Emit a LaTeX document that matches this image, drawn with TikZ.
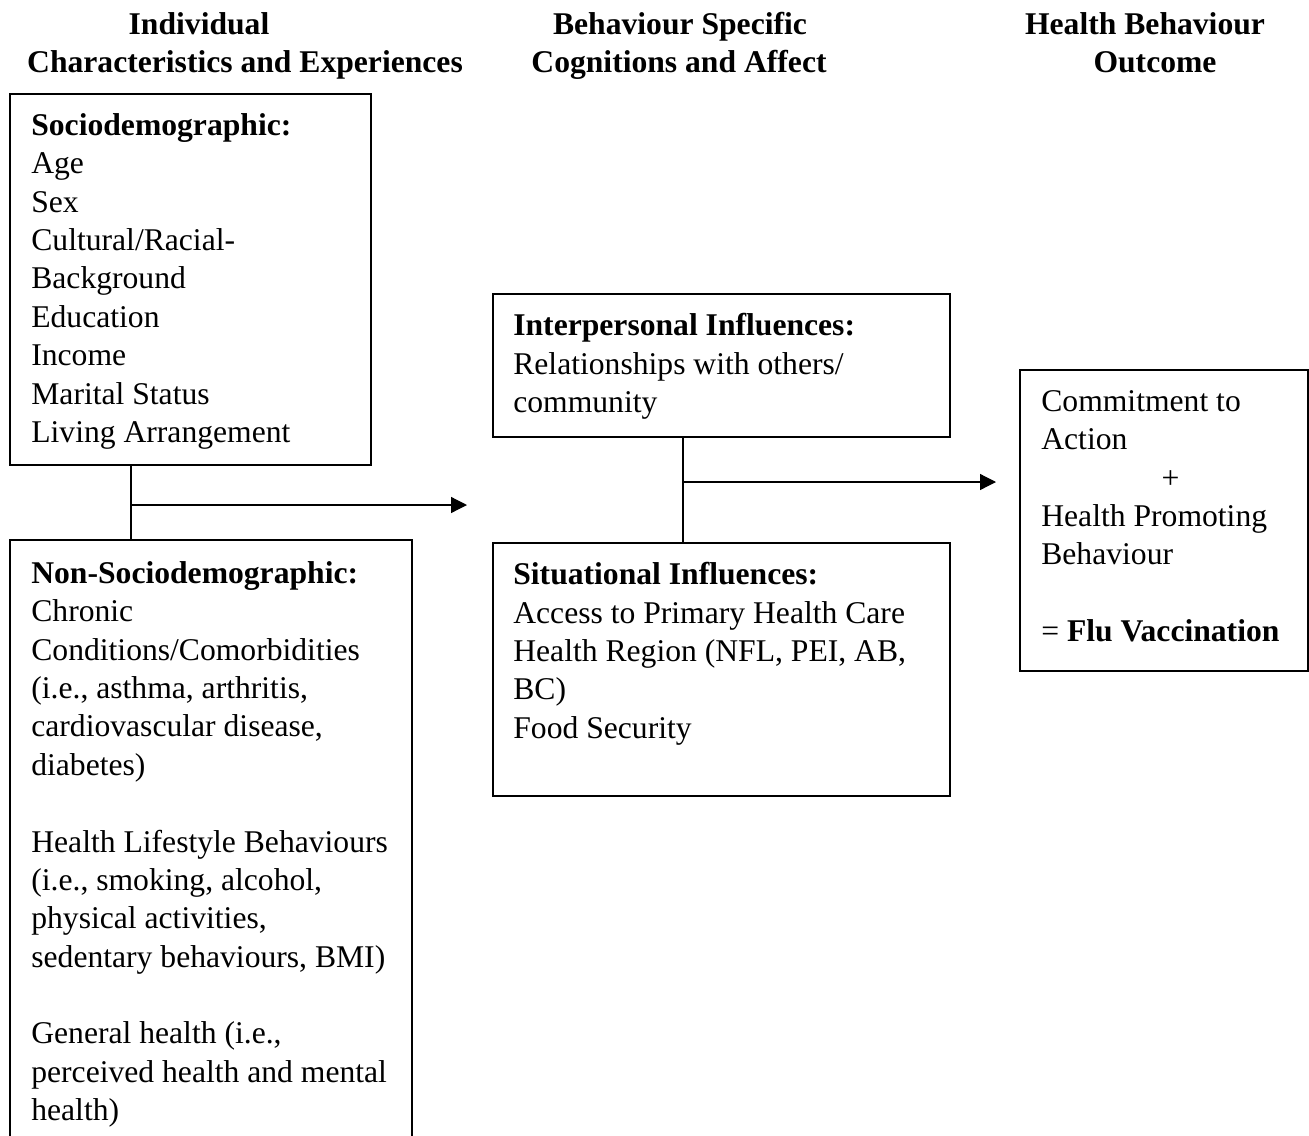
\documentclass[tikz,border=0pt]{standalone}
\usepackage{fontspec}
\setmainfont{Liberation Serif}
\usetikzlibrary{arrows.meta}

\begin{document}
\begin{tikzpicture}[x=0.02cm,y=-0.02cm,
	frame/.style={draw,line width=1.1pt,rectangle,anchor=north west,inner sep=0pt,outer sep=0pt},
	txt/.style={anchor=north west,inner sep=0pt,align=left,font=\fontsize{18pt}{21.85pt}\selectfont},
	head/.style={anchor=base,inner sep=0pt,font=\fontsize{18pt}{21.85pt}\selectfont\bfseries},
	link/.style={line width=0.7pt},
	arr/.style={line width=0.7pt,-{Triangle[length=9pt,width=9pt]}}]
	\clip (0,0) rectangle (1309,1136);
	
	% headings
	\node [head] (indiv) at (199,34) {Individual};
	\node [head] (charexp) at (245,72) {Characteristics and Experiences};
	\node [head] (behspec) at (680,34) {Behaviour Specific};
	\node [head] (cogaff) at (679,72) {Cognitions and Affect};
	\node [head] (healthbeh) at (1145,34) {Health Behaviour};
	\node [head] (outc) at (1155,72) {Outcome};
	
	% boxes
	\node [frame,minimum width=7.22cm,minimum height=7.42cm] (socio) at (10,94) {};
	\node [frame,minimum width=8.04cm,minimum height=12.4cm] (nonsocio) at (10,540) {};
	\node [frame,minimum width=9.14cm,minimum height=2.86cm] (inter) at (493,294) {};
	\node [frame,minimum width=9.14cm,minimum height=5.06cm] (situ) at (493,543) {};
	\node [frame,minimum width=5.76cm,minimum height=6.02cm] (outcome) at (1020,370) {};
	
	\node [txt] (sociotxt) at ([shift={(21,19)}]socio.north west) {\textbf{Sociodemographic:}\\
		Age\\ Sex\\ Cultural/Racial-\\ Background\\ Education\\ Income\\ Marital Status\\ Living Arrangement};
	\node [txt] (nonsociotxt) at ([shift={(21,21)}]nonsocio.north west) {\textbf{Non-Sociodemographic:}\\
		Chronic\\ Conditions/Comorbidities\\ (i.e., asthma, arthritis,\\ cardiovascular disease,\\ diabetes)\\[21.85pt]
		Health Lifestyle Behaviours\\ (i.e., smoking, alcohol,\\ physical activities,\\ sedentary behaviours, BMI)\\[21.85pt]
		General health (i.e.,\\ perceived health and mental\\ health)};
	\node [txt] (intertxt) at ([shift={(20,19)}]inter.north west) {\textbf{Interpersonal Influences:}\\
		Relationships with others/\\ community};
	\node [txt] (situtxt) at ([shift={(20,19)}]situ.north west) {\textbf{Situational Influences:}\\
		Access to Primary Health Care\\ Health Region (NFL, PEI, AB,\\ BC)\\ Food Security};
	\node [txt] (outcometxt) at ([shift={(21,20)}]outcome.north west) {Commitment to\\ Action\\
		\hspace*{68.5pt}+\\ Health Promoting\\ Behaviour\\[21.85pt] = \textbf{Flu Vaccination}};
	
	% connectors
	\coordinate (j1) at (131,505);
	\coordinate (a1) at (467,505);
	\coordinate (j2) at (683,482);
	\coordinate (a2) at (996,482);
	\draw [link] (j1 |- socio.south) -- (j1 |- nonsocio.north);
	\draw [arr] (j1) -- (a1);
	\draw [link] (j2 |- inter.south) -- (j2 |- situ.north);
	\draw [arr] (j2) -- (a2);
\end{tikzpicture}
\end{document}
